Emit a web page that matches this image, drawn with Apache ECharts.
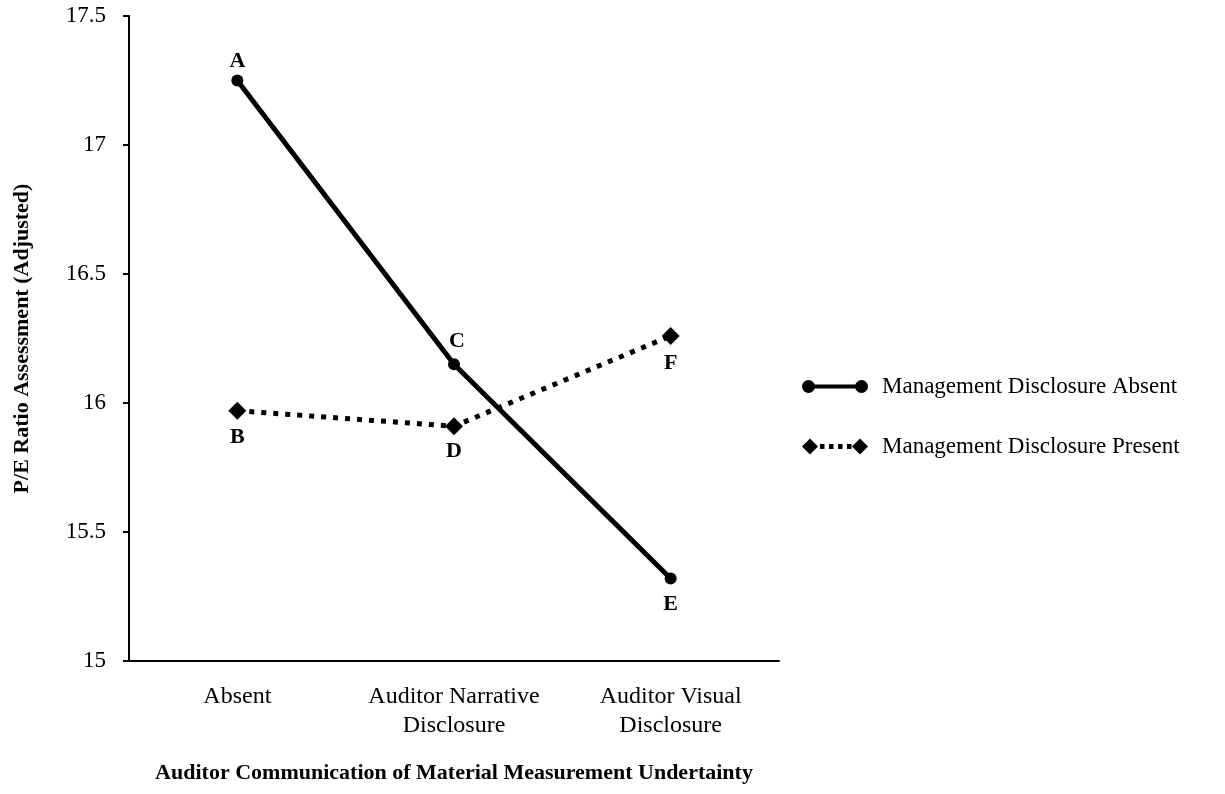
<!DOCTYPE html>
<html>
<head>
<meta charset="utf-8">
<script src="https://cdn.jsdelivr.net/npm/echarts@6/dist/echarts.min.js"></script>
<style>html,body{margin:0;padding:0;background:#fff;}#chart{width:1225px;height:794px;}</style>
</head>
<body>
<div id="chart"></div>
<script>
var categories = ['Absent', 'Auditor Narrative\nDisclosure', 'Auditor Visual\nDisclosure'];
var seriesNames = ['Management Disclosure Absent', 'Management Disclosure Present'];
var absentValues = [17.25, 16.15, 15.32];
var presentValues = [15.97, 15.91, 16.26];
var absentLetters = ['A', 'C', 'E'];
var presentLetters = ['B', 'D', 'F'];
var yTicks = {min: 15, max: 17.5, interval: 0.5};
var xTitle = 'Auditor Communication of Material Measurement Undertainty';
var yTitle = 'P/E Ratio Assessment (Adjusted)';

var FONT = '"Liberation Serif", "Times New Roman", serif';
var labelStyle = {show: true, fontFamily: FONT, fontSize: 22, fontWeight: 'bold', color: '#000'};

var absentPos = ['top', 'top', 'bottom'];
var absentDist = [2, 6, 9];
var absentOffset = [[0, 0], [3, 0], [0, 0]];
var presentDist = [7, 5, 7];

var absentData = absentValues.map(function (v, i) {
  return {value: v, label: Object.assign({}, labelStyle, {position: absentPos[i], distance: absentDist[i], offset: absentOffset[i], formatter: absentLetters[i]})};
});
var presentData = presentValues.map(function (v, i) {
  return {value: v, label: Object.assign({}, labelStyle, {position: 'bottom', distance: presentDist[i], formatter: presentLetters[i]})};
});

var icon1 = 'path://M0,8A6.5,6.5 0 1,1 13,8A6.5,6.5 0 1,1 0,8Z M6,6L60,6L60,10L6,10Z M53,8A6.5,6.5 0 1,1 66,8A6.5,6.5 0 1,1 53,8Z';
var icon2 = 'path://M0,8L8,0L16,8L8,16Z M18,5.6L22.5,5.6L22.5,10.4L18,10.4Z M27,5.6L31.5,5.6L31.5,10.4L27,10.4Z M36,5.6L40.5,5.6L40.5,10.4L36,10.4Z M45,5.6L49.5,5.6L49.5,10.4L45,10.4Z M50,8L58,0L66,8L58,16Z';

var chart = echarts.init(document.getElementById('chart'), null, {renderer: 'canvas'});
chart.setOption({
  animation: false,
  backgroundColor: '#fff',
  grid: {left: 129, right: 446, top: 16, bottom: 133, containLabel: false},
  legend: {
    orient: 'vertical',
    left: 797,
    top: 370,
    itemWidth: 66,
    itemHeight: 16,
    itemGap: 37,
    textStyle: {fontFamily: FONT, fontSize: 23, color: '#000', padding: [0, 0, 0, 9]},
    data: [
      {name: seriesNames[0], icon: icon1, itemStyle: {color: '#000'}},
      {name: seriesNames[1], icon: icon2, itemStyle: {color: '#000'}}
    ]
  },
  xAxis: {
    type: 'category',
    data: categories,
    boundaryGap: true,
    name: xTitle,
    nameLocation: 'middle',
    nameGap: 101,
    nameTextStyle: {fontFamily: FONT, fontSize: 22, fontWeight: 'bold', color: '#000'},
    axisLine: {lineStyle: {color: '#000', width: 2}},
    axisTick: {alignWithLabel: true, length: 6, lineStyle: {color: '#000', width: 2}},
    axisLabel: {interval: 0, hideOverlap: false, fontFamily: FONT, fontSize: 24, color: '#000', margin: 21, lineHeight: 29},
    splitLine: {show: false}
  },
  yAxis: {
    type: 'value',
    min: yTicks.min,
    max: yTicks.max,
    interval: yTicks.interval,
    name: yTitle,
    nameLocation: 'middle',
    nameGap: 96,
    nameRotate: 90,
    nameTextStyle: {fontFamily: FONT, fontSize: 22, fontWeight: 'bold', color: '#000'},
    axisLine: {show: true, lineStyle: {color: '#000', width: 2}},
    axisTick: {show: true, length: 6, lineStyle: {color: '#000', width: 2}},
    axisLabel: {fontFamily: FONT, fontSize: 23, color: '#000', margin: 23, padding: [4, 0, 0, 0]},
    splitLine: {show: false}
  },
  series: [
    {
      name: seriesNames[0],
      type: 'line',
      data: absentData,
      symbol: 'circle',
      symbolSize: 12,
      z: 3,
      itemStyle: {color: '#000'},
      lineStyle: {color: '#000', width: 5},
      emphasis: {disabled: true}
    },
    {
      name: seriesNames[1],
      type: 'line',
      data: presentData,
      symbol: 'diamond',
      symbolSize: 18,
      z: 2,
      itemStyle: {color: '#000'},
      lineStyle: {color: '#000', width: 5, type: [5, 7], cap: 'butt'},
      emphasis: {disabled: true}
    }
  ]
});
</script>
</body>
</html>
